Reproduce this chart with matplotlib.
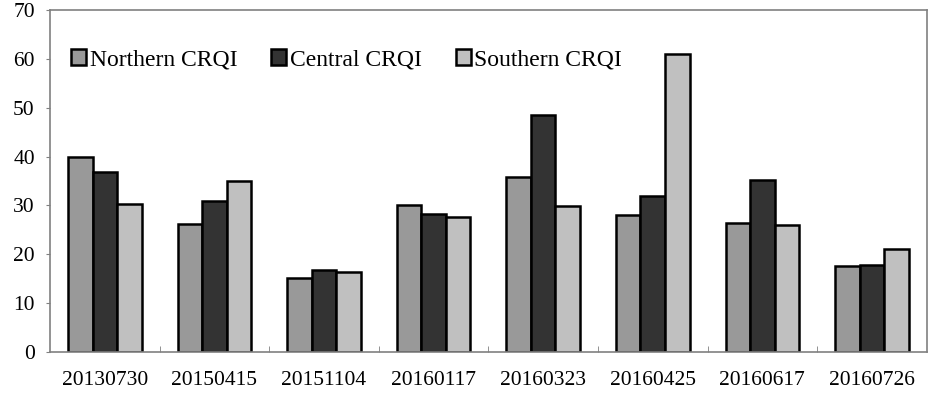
import numpy as np
import matplotlib.pyplot as plt

dates = ["20130730", "20150415", "20151104", "20160117",
         "20160323", "20160425", "20160617", "20160726"]
northern = [39.9, 26.2, 15.2, 30.0, 35.8, 28.0, 26.4, 17.7]
central = [36.8, 31.0, 16.7, 28.2, 48.6, 32.0, 35.2, 17.9]
southern = [30.3, 34.9, 16.4, 27.6, 29.8, 61.0, 25.9, 21.0]

plt.rcParams['font.family'] = ['Liberation Serif', 'DejaVu Serif']

fig = plt.figure(figsize=(9.37, 3.93), dpi=100)
ax = fig.add_axes([0.0534, 0.1043, 0.9356, 0.8703])

x = np.arange(len(dates))
w = 0.224
ax.bar(x - w, northern, w, color="#999999", edgecolor="black", linewidth=1.8, label="Northern CRQI")
ax.bar(x, central, w, color="#333333", edgecolor="black", linewidth=1.8, label="Central CRQI")
ax.bar(x + w, southern, w, color="#c0c0c0", edgecolor="black", linewidth=1.8, label="Southern CRQI")

ax.set_xlim(-0.5, len(dates) - 0.5)
ax.set_ylim(0, 70)
ax.set_yticks(np.arange(0, 71, 10))
ax.set_xticks(x)
ax.set_xticklabels(dates)
ax.set_xticks(np.arange(0.5, len(dates) - 1, 1), minor=True)
ax.tick_params(axis="x", which="major", length=0, pad=14, labelsize=15.5)
ax.tick_params(axis="x", which="minor", direction="in", length=4, color="#808080")
ax.tick_params(axis="y", direction="out", length=3, color="#808080", labelsize=15.5, pad=8)
for s in ax.spines.values():
    s.set_color("#808080")
    s.set_linewidth(1.2)

ax.legend(loc="center left", bbox_to_anchor=(0.024, 0.855), ncol=3, frameon=False,
          fontsize=17, handlelength=0.65, handleheight=0.7, handletextpad=0.15,
          columnspacing=1.42, borderaxespad=0, borderpad=0)

fig.savefig("out.png", dpi=100)
